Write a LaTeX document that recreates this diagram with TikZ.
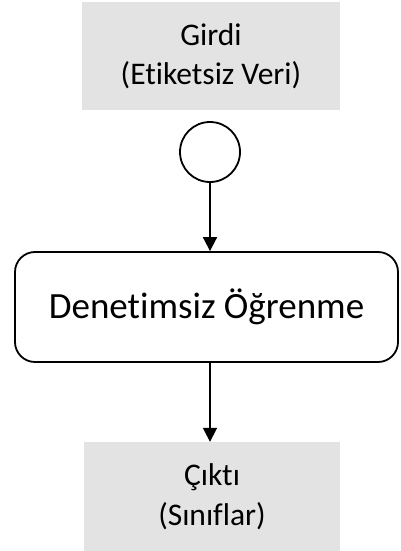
\documentclass[tikz,border=0pt]{standalone}
\usepackage{fontspec}
\setmainfont{Carlito}[Ligatures={NoCommon,NoContextual}]
\usetikzlibrary{arrows.meta}
\definecolor{boxgray}{HTML}{E3E3E3}
\begin{document}
\begin{tikzpicture}[x=1pt,y=-1pt,
  graybox/.style={fill=boxgray, draw=none, inner sep=0pt, align=center,
    font=\fontsize{31.5}{39.5}\selectfont},
  procbox/.style={draw=black, line width=1.8pt, rounded corners=20pt, inner sep=0pt,
    font=\fontsize{37}{44}\selectfont, text height=23pt, text depth=0pt},
  joint/.style={draw=black, line width=1.8pt, circle, inner sep=0pt, minimum size=60pt},
  flow/.style={draw=black, line width=1.8pt, -{Triangle[length=14pt,width=14pt]}}
]
  \useasboundingbox (0,0) rectangle (400,551);

  % input
  \node[graybox, minimum width=258pt, minimum height=108pt] (input) at (211,56)
    {Girdi\\(Etiketsiz Veri)};

  % junction circle
  \node[joint] (junc) at (210,152) {};

  % process
  \node[procbox, minimum width=383pt, minimum height=110pt] (proc) at (206.5,307)
    {Denetimsiz Öğrenme};

  % output
  \node[graybox, minimum width=256pt, minimum height=109pt] (output) at (212,496.5)
    {Çıktı\\(Sınıflar)};

  % connectors
  \draw[flow] (junc.south) -- (junc.south |- proc.north);
  \draw[flow] (junc.south |- proc.south) -- (junc.south |- output.north);
\end{tikzpicture}
\end{document}
